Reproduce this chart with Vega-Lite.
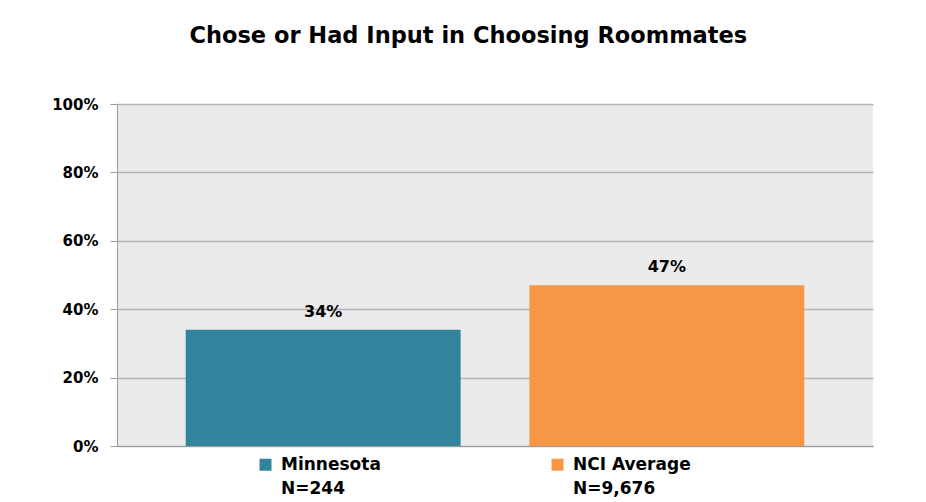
{
  "$schema": "https://vega.github.io/schema/vega-lite/v6.json",
  "autosize": "none",
  "width": 756,
  "height": 342,
  "padding": {"left": 117, "top": 104, "right": 53, "bottom": 56},
  "background": "white",
  "title": {
    "text": "Chose or Had Input in Choosing Roommates",
    "font": "DejaVu Sans",
    "fontSize": 22.5,
    "fontWeight": "bold",
    "color": "#000000",
    "anchor": "middle",
    "frame": "bounds",
    "dx": 6,
    "offset": 50
  },
  "data": {
    "values": [
      {"group": "Minnesota", "value": 0.34, "n": "N=244"},
      {"group": "NCI Average", "value": 0.47, "n": "N=9,676"}
    ]
  },
  "transform": [
    {"calculate": "datum.group + '|' + datum.n", "as": "key"}
  ],
  "config": {
    "view": {"fill": "#EBEBEB", "stroke": null},
    "font": "DejaVu Sans",
    "style": {"guide-label": {"lineHeight": 24}}
  },
  "encoding": {
    "x": {
      "field": "group",
      "type": "nominal",
      "sort": null,
      "scale": {"paddingInner": 0.2, "paddingOuter": 0.2},
      "axis": {
        "title": null,
        "labels": false,
        "ticks": false,
        "domain": true,
        "domainColor": "#9a9a9a",
        "grid": false
      }
    }
  },
  "layer": [
    {
      "mark": {"type": "bar"},
      "encoding": {
        "y": {
          "field": "value",
          "type": "quantitative",
          "scale": {"domain": [0, 1]},
          "axis": {
            "title": null,
            "values": [0, 0.2, 0.4, 0.6, 0.8, 1],
            "format": ".0%",
            "labelFont": "DejaVu Sans",
            "labelFontSize": 15,
            "labelFontWeight": "bold",
            "labelColor": "#000000",
            "labelPadding": 12,
            "tickColor": "#9a9a9a",
            "tickSize": 7,
            "domainColor": "#9a9a9a",
            "gridColor": "#b4b4b4",
            "gridWidth": 1.5
          }
        },
        "color": {
          "field": "key",
          "type": "nominal",
          "sort": null,
          "scale": {"range": ["#31849B", "#F79646"]},
          "legend": {
            "title": null,
            "orient": "none",
            "legendX": 140,
            "legendY": 352,
            "direction": "horizontal",
            "symbolType": "square",
            "symbolSize": 144,
            "symbolStrokeWidth": 0,
            "symbolOpacity": 1,
            "labelFont": "DejaVu Sans",
            "labelFontSize": 17,
            "labelFontWeight": "bold",
            "labelColor": "#000000",
            "labelOffset": 7,
            "labelLimit": 300,
            "labelExpr": "split(datum.label, '|')",
            "columnPadding": 168,
            "padding": 0
          }
        }
      }
    },
    {
      "mark": {
        "type": "text",
        "baseline": "bottom",
        "dy": -10,
        "font": "DejaVu Sans",
        "fontSize": 16,
        "fontWeight": "bold",
        "color": "#000000"
      },
      "encoding": {
        "y": {"field": "value", "type": "quantitative"},
        "text": {"field": "value", "type": "quantitative", "format": ".0%"}
      }
    }
  ]
}
